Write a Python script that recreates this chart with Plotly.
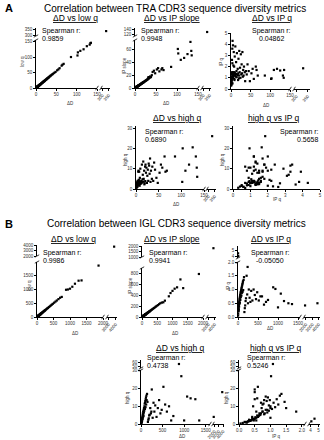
import plotly.graph_objects as go

# ---------------- data ----------------
# TRA samples
tra_dD = [0.3, 0.5, 0.8, 1.0, 1.2, 1.5, 2.0, 2.2, 2.5, 3.0, 3.3, 3.6, 4.0, 4.5, 5.0, 5.5, 6.0, 6.5, 7.0, 7.5,
          8.0, 8.5, 9.0, 9.5, 10, 11, 12, 13, 14, 15, 16, 17, 18, 19, 20, 21, 22, 23, 24, 25,
          26, 27, 28, 29, 30, 31, 32, 33, 35, 36, 38, 40, 42, 45, 48, 52, 55, 58, 63, 65,
          68, 86, 102, 103, 109, 117, 125, 132, 134, 135, 330,
          0.4, 0.7, 1.1, 1.8, 2.8, 3.8, 4.8, 6.2, 7.2, 8.8, 10.5, 12.5, 14.5, 16.5, 18.5, 20.5, 3.5, 5.2]
tra_lowq = [0.4, 0.6, 1.0, 1.2, 1.3, 1.8, 2.3, 2.5, 2.9, 3.4, 3.8, 4.0, 4.5, 5.0, 5.6, 6.2, 6.7, 7.2, 7.8, 8.3,
            8.9, 9.5, 10.0, 10.5, 11, 12, 13, 14.5, 15.5, 16.5, 17.5, 18.8, 19.8, 21, 22, 23, 24, 25.5, 26.5, 27.5,
            28.5, 30, 31, 32, 33, 34, 35.5, 36.5, 38.5, 40, 42, 44, 46, 49, 52, 57, 60, 64, 72, 75,
            78, 100, 105, 115, 120, 125, 135, 140, 145, 146, 335,
            0.5, 0.8, 1.3, 2.0, 3.1, 4.2, 5.3, 6.9, 8.0, 9.8, 11.6, 13.8, 16, 18.2, 20.4, 22.6, 3.9, 5.8]
tra_ipslope = [0.2, 0.3, 0.4, 0.5, 0.6, 0.7, 0.9, 1.0, 1.1, 1.3, 1.5, 1.6, 1.8, 2.0, 2.2, 2.4, 2.7, 2.9, 3.1, 3.3,
               3.5, 3.8, 4.0, 4.2, 4.4, 4.9, 5.3, 5.8, 6.2, 6.7, 7.1, 7.6, 8.0, 8.5, 8.9, 9.4, 9.8, 10.3, 10.8, 11.2,
               11.7, 12.1, 12.6, 13, 13.5, 15, 17, 14.8, 16, 18, 17, 20, 25, 27, 23, 29, 31, 26, 29, 31,
               28, 33, 61, 54, 44, 47, 53, 72, 58, 51, 130,
               0.2, 0.3, 0.5, 0.8, 1.2, 1.7, 2.1, 2.8, 3.2, 3.9, 4.7, 5.6, 6.5, 7.4, 8.3, 9.2, 1.6, 2.3]
tra_ipq = [0.6, 0.5, 0.7, 0.9, 1.3, 0.4, 1.1, 0.8, 2.6, 1.4, 3.6, 1.2, 4.3, 1.0, 3.9, 1.5, 2.1, 1.3, 3.3, 1.2,
           2.0, 0.9, 1.5, 2.9, 1.4, 3.8, 1.1, 2.4, 1.6, 3.2, 1.3, 1.8, 0.8, 2.7, 1.2, 3.4, 1.5, 1.9, 1.0, 3.1,
           1.3, 2.2, 1.4, 3.3, 1.1, 1.7, 1.2, 2.0, 1.5, 0.7, 1.6, 1.3, 2.2, 1.6, 0.7, 1.4, 1.8, 0.9, 2.0, 1.7,
           1.2, 1.2, 0.9, 0.95, 1.7, 1.8, 1.65, 1.2, 1.0, 1.7, 1.85,
           0.3, 1.0, 1.4, 0.6, 1.5, 0.5, 1.0, 1.3, 1.45, 0.8, 1.2, 1.35, 1.05, 1.25, 1.4, 0.95, 2.3, 1.15]
tra_highq = [1.0, 1.5, 0.5, 2.0, 2.5, 1.2, 3.0, 1.8, 1.0, 3.5, 2.2, 4.0, 3.0, 2.8, 8.5, 9.0, 4.5, 2.0, 8.5, 3.8,
             1.6, 5.5, 3.0, 10.0, 2.5, 3.5, 4.0, 12.0, 3.5, 7.0, 13.5, 5.0, 9.0, 2.8, 11.0, 12.0, 8.0, 10.5, 3.0, 6.5,
             9.5, 4.0, 12.5, 11.5, 7.5, 15.0, 3.5, 9.0, 5.0, 11.0, 4.0, 13.0, 9.5, 5.5, 3.0, 8.0, 12.0, 10.5, 16.0, 8.5,
             9.0, 16.0, 3.5, 20.0, 9.0, 12.0, 20.5, 16.0, 10.5, 6.0, 26.0,
             0.6, 1.4, 2.6, 1.1, 2.4, 1.9, 3.1, 2.2, 4.2, 2.7, 3.3, 2.9, 4.8, 3.6, 2.3, 3.9, 1.3, 3.4]

# IGL samples
igl_dD = [3, 5, 7, 9, 11, 13, 15, 18, 20, 22, 25, 27, 30, 33, 36, 40, 43, 46, 50, 54,
          58, 62, 66, 70, 75, 80, 85, 90, 95, 100, 105, 110, 115, 120, 125, 130, 140, 150, 160, 170,
          180, 190, 200, 215, 230, 250, 270, 290, 310, 330, 360, 390, 420, 450, 480, 520, 560, 600, 650, 700,
          750, 880, 935, 1000, 1070, 1150, 1260, 1350, 1865, 3800, 2, 6, 240]
igl_lowq = [3, 5, 7, 9, 11, 13, 15, 18, 20, 22, 25, 27, 30, 33, 36, 40, 43, 46, 50, 54,
            58, 62, 66, 70, 75, 80, 85, 90, 95, 100, 105, 110, 115, 120, 125, 130, 140, 150, 160, 170,
            180, 190, 200, 215, 230, 250, 270, 290, 310, 330, 360, 390, 420, 450, 480, 520, 560, 600, 650, 700,
            730, 990, 1000, 1030, 1100, 1210, 1320, 1330, 1870, 3700, 2, 6, 240]
igl_ipslope = [1, 2, 3, 4, 5, 5, 6, 8, 8, 9, 10, 11, 13, 14, 15, 17, 18, 19, 21, 23,
               24, 26, 28, 29, 31, 34, 36, 38, 40, 42, 44, 46, 48, 50, 52, 55, 59, 63, 67, 71,
               76, 80, 84, 90, 97, 105, 113, 122, 130, 139, 151, 164, 176, 189, 202, 218, 235, 252, 265, 270,
               300, 380, 440, 480, 520, 545, 690, 530, 790, 1800, 1, 2, 100]
igl_ipq = [0.05, 0.12, 0.2, 0.25, 0.3, 0.22, 0.35, 0.4, 0.28, 0.45, 0.5, 0.38, 0.55, 0.6, 0.48, 0.65, 0.7, 0.52, 0.75, 0.8,
           0.62, 0.85, 0.9, 0.72, 0.95, 1.0, 0.78, 1.05, 1.1, 0.88, 1.15, 1.2, 0.92, 1.25, 1.3, 0.98, 1.35, 1.45, 0.18, 0.32,
           0.42, 0.58, 0.68, 1.5, 0.82, 0.5, 1.0, 0.7, 0.55, 0.95, 0.6, 1.0, 0.8, 0.65, 0.9, 0.6, 0.75, 0.75, 0.45, 0.55,
           0.62, 1.08, 1.02, 0.35, 0.85, 0.58, 0.5, 0.47, 0.42, 0.5, 4.5, 4.1, 1.82]
igl_highq = [0.3, 0.6, 1.0, 0.8, 1.4, 1.1, 1.8, 2.2, 1.5, 2.6, 3.0, 2.0, 3.5, 4.2, 2.8, 5.0, 6.0, 3.8, 7.0, 5.5,
             4.5, 8.0, 6.5, 9.0, 7.5, 10.0, 11.5, 8.5, 12.0, 13.0, 9.5, 14.0, 15.0, 11.0, 16.0, 13.5, 17.0, 12.5, 1.2, 2.4,
             3.2, 4.8, 5.2, 9.0, 6.0, 19.5, 3.5, 12.0, 7.0, 10.5, 4.0, 9.0, 13.5, 6.0, 8.0, 21.0, 11.0, 7.0, 10.0, 2.0,
             4.5, 55.0, 27.0, 2.0, 15.5, 14.5, 14.0, 2.0, 4.0, 18.0, 3.0, 1.5, 7.0]

title_A = "Correlation between TRA CDR3 sequence diversity metrics"
title_B = "Correlation between IGL CDR3 sequence diversity metrics"
panel_titles = ["ΔD vs low q", "ΔD vs IP slope", "ΔD vs IP q", "ΔD vs high q", "high q vs IP q"]
x_titles = ["ΔD", "ΔD", "ΔD", "ΔD", "IP q"]
y_titles = ["low q", "IP slope", "IP q", "high q", "high q"]
spearman_A = ["0.9859", "0.9948", "0.04862", "0.6890", "0.5658"]
spearman_B = ["0.9986", "0.9941", "-0.05050", "0.4738", "0.5246"]

# ---------------- layout helpers ----------------
W, H = 324, 440
FONT = "Liberation Sans, Arial, sans-serif"


def px(x):
    return x / W


def py(y):
    return 1 - y / H


fig = go.Figure()
axes = {}
shapes = []
annotations = []
counter = {"x": 0, "y": 0}

base_axis = dict(showline=True, linecolor="black", linewidth=0.8, ticks="outside", ticklen=2,
                 tickwidth=0.8, tickcolor="black", showgrid=False, zeroline=False,
                 tickfont=dict(size=4.5, family=FONT, color="#333"), automargin=False, fixedrange=True)


def axname(kind, i):
    return f"{kind}axis" if i == 1 else f"{kind}axis{i}"


def axref(kind, i):
    return kind if i == 1 else f"{kind}{i}"


def brk(x, y, w=1.4, h=2.2):
    shapes.append(dict(type="line", xref="paper", yref="paper", x0=px(x - w), y0=py(y + h),
                       x1=px(x + w), y1=py(y - h), line=dict(color="black", width=0.8)))


def ticktexts(vals, fmt):
    return [fmt.format(v) for v in vals]


def add_panel(xs, ys, s):
    counter["x"] += 1
    xm = counter["x"]
    counter["y"] += 1
    ym = counter["y"]
    xb = yb = None
    if "xb" in s:
        counter["x"] += 1
        xb = counter["x"]
    if "yb" in s:
        counter["y"] += 1
        yb = counter["y"]
    xf = s.get("xfmt", "{:g}")
    yf = s.get("yfmt", "{:g}")
    axes[axname("x", xm)] = dict(base_axis, domain=[px(s["xm"][0]), px(s["xm"][1])], range=s["xr"],
                                 anchor=axref("y", ym), tickvals=s["xt"], ticktext=ticktexts(s["xt"], xf))
    axes[axname("y", ym)] = dict(base_axis, domain=[py(s["ym"][0]), py(s["ym"][1])], range=s["yr"],
                                 anchor=axref("x", xm), tickvals=s["yt"], ticktext=ticktexts(s["yt"], yf))
    if xb:
        axes[axname("x", xb)] = dict(base_axis, domain=[px(s["xb"][0]), px(s["xb"][1])], range=s["xbr"],
                                     anchor=axref("y", ym), tickvals=s["xbt"],
                                     ticktext=ticktexts(s["xbt"], "{:g}"), tickangle=s.get("xba", -50))
        brk(s["xm"][1], s["ym"][0])
        brk(s["xb"][0], s["ym"][0])
    if yb:
        axes[axname("y", yb)] = dict(base_axis, domain=[py(s["yb"][0]), py(s["yb"][1])], range=s["ybr"],
                                     anchor=axref("x", xm), tickvals=s["ybt"],
                                     ticktext=ticktexts(s["ybt"], "{:g}"))
        brk(s["xm"][0], s["ym"][1], 2.2, 1.2)
        brk(s["xm"][0], s["yb"][0], 2.2, 1.2)
    groups = {}
    for x, y in zip(xs, ys):
        kx = xb if (xb and x > s["xr"][1]) else xm
        ky = yb if (yb and y > s["yr"][1]) else ym
        groups.setdefault((kx, ky), ([], []))
        groups[(kx, ky)][0].append(x)
        groups[(kx, ky)][1].append(y)
    for (kx, ky), (gx, gy) in groups.items():
        fig.add_trace(go.Scatter(x=gx, y=gy, mode="markers", xaxis=axref("x", kx), yaxis=axref("y", ky),
                                 marker=dict(size=2.2, color="black", symbol="square"),
                                 cliponaxis=False, hoverinfo="skip"))


def text(x, y, t, size, anchor="center", angle=0, bold=False, color="black"):
    if bold:
        t = f"<b>{t}</b>"
    annotations.append(dict(x=px(x), y=py(y), xref="paper", yref="paper", text=t, showarrow=False,
                            xanchor=anchor, yanchor="middle", textangle=angle,
                            font=dict(size=size, family=FONT, color=color)))


# ---------------- panels: TRA ----------------
specA = [
    dict(xm=(36, 97), xr=[0, 150], xt=[0, 50, 100, 150], xb=(101, 110), xbr=[290, 360], xbt=[300, 350],
         ym=(88, 40), yr=[0, 155], yt=[0, 50, 100, 150], yb=(36, 28), ybr=[295, 360], ybt=[300, 350]),
    dict(xm=(135, 198), xr=[0, 150], xt=[0, 50, 100, 150], xb=(202, 211), xbr=[290, 360], xbt=[300, 350],
         ym=(88, 40), yr=[0, 75], yt=[0, 20, 40, 60], yb=(36, 28), ybr=[115, 145], ybt=[120, 140]),
    dict(xm=(231, 290), xr=[0, 150], xt=[0, 50, 100, 150], xb=(294, 310), xbr=[290, 360], xbt=[300, 350],
         ym=(89, 33), yr=[0, 5], yt=[0, 1, 2, 3, 4, 5]),
    dict(xm=(136, 204), xr=[0, 150], xt=[0, 50, 100, 150], xb=(207, 216), xbr=[290, 360], xbt=[300, 350],
         ym=(189, 126), yr=[0, 31], yt=[0, 10, 20, 30]),
    dict(xm=(233, 320), xr=[0, 5], xt=[0, 1, 2, 3, 4, 5],
         ym=(189, 126), yr=[0, 31], yt=[0, 10, 20, 30]),
]
tra_pairs = [(tra_dD, tra_lowq), (tra_dD, tra_ipslope), (tra_dD, tra_ipq), (tra_dD, tra_highq),
             (tra_ipq, tra_highq)]
for (xs, ys), s in zip(tra_pairs, specA):
    add_panel(xs, ys, s)

# ---------------- panels: IGL ----------------
specB = [
    dict(xm=(37, 103), xr=[0, 2000], xt=[0, 500, 1000, 1500, 2000], xb=(107, 117), xbr=[2800, 4200],
         xbt=[3000, 4000], ym=(317, 262), yr=[0, 2000], yt=[0, 500, 1000, 1500],
         yb=(256, 245), ybr=[2000, 4000], ybt=[2000, 3000, 4000]),
    dict(xm=(142, 203), xr=[0, 2000], xt=[0, 500, 1000, 1500, 2000], xb=(207, 216), xbr=[2800, 4200],
         xbt=[3000, 4000], ym=(317, 268), yr=[0, 900], yt=[0, 200, 400, 600, 800],
         yb=(257, 246), ybr=[1000, 2000], ybt=[1000, 1500, 2000]),
    dict(xm=(238, 300), xr=[0, 1550], xt=[0, 500, 1000, 1500], xb=(304, 320), xbr=[1700, 4200],
         xbt=[2000, 3000, 4000], ym=(317, 262), yr=[0, 2.0], yt=[0, 0.5, 1.0, 1.5, 2.0], yfmt="{:.1f}",
         yb=(258, 246), ybr=[3.8, 5.6], ybt=[4, 5]),
    dict(xm=(141, 210), xr=[0, 1600], xt=[0, 500, 1000, 1500], xb=(213, 224), xbr=[1700, 4200],
         xbt=[2000, 3000, 4000], ym=(424, 370), yr=[0, 30.5], yt=[0, 10, 20, 30],
         yb=(368, 360), ybr=[45, 65], ybt=[50, 60]),
    dict(xm=(239, 305), xr=[0, 2.1], xt=[0, 0.5, 1.0, 1.5, 2.0], xfmt="{:.1f}", xb=(309, 320), xbr=[3.8, 5.2],
         xbt=[4, 5], xba=0, ym=(424, 370), yr=[0, 30.5], yt=[0, 10, 20, 30],
         yb=(368, 360), ybr=[45, 65], ybt=[50, 60]),
]
igl_pairs = [(igl_dD, igl_lowq), (igl_dD, igl_ipslope), (igl_dD, igl_ipq), (igl_dD, igl_highq),
             (igl_ipq, igl_highq)]
for (xs, ys), s in zip(igl_pairs, specB):
    add_panel(xs, ys, s)

# ---------------- texts ----------------
text(3, 8, "A", 11, anchor="left", bold=True)
text(175, 8, title_A, 10)
text(3, 224, "B", 11, anchor="left", bold=True)
text(176, 224, title_B, 10)

ptA = [(75, 18), (172, 18), (272, 18), (177, 118), (274, 118)]
ptB = [(73, 239), (172, 239), (271, 239), (180, 348), (276, 348)]
for (x, y), t in zip(ptA, panel_titles):
    text(x, y, f"<u>{t}</u>", 8.5)
for (x, y), t in zip(ptB, panel_titles):
    text(x, y, f"<u>{t}</u>", 8.5)

# Spearman labels
spA = [(40, "left"), (139, "left"), (271, "center"), (143, "left"), (321, "right")]
spA_y = [31, 31, 31, 132, 132]
for (x, a), y, v in zip(spA, spA_y, spearman_A):
    text(x, y, "Spearman r:", 7, anchor=a)
    text(x, y + 8, v, 7, anchor=a)
spB = [(41, "left"), (147, "left"), (270, "center"), (145, "left"), (245, "left")]
spB_y = [253, 253, 253, 358, 358]
for (x, a), y, v in zip(spB, spB_y, spearman_B):
    text(x, y, "Spearman r:", 7, anchor=a)
    text(x, y + 7.5, v, 7, anchor=a)

# axis titles
xtA = [(70, 103), (166, 103), (266, 105), (176, 204), (277, 199)]
ytA = [(23, 62), (124, 66), (222, 62), (125, 160), (222, 160)]
xtB = [(75, 333), (175, 333), (270, 328), (182, 436), (276, 436)]
ytB = [(29, 286), (130, 286), (228, 286), (127, 398), (226, 398)]
for (x, y), t in zip(xtA, x_titles):
    text(x, y, t, 4.5, color="#333")
for (x, y), t in zip(ytA, y_titles):
    text(x, y, t, 4.5, angle=-90, color="#333")
for (x, y), t in zip(xtB, x_titles):
    text(x, y, t, 4.5, color="#333")
for (x, y), t in zip(ytB, y_titles):
    text(x, y, t, 4.5, angle=-90, color="#333")

fig.update_layout(width=W, height=H, margin=dict(l=0, r=0, t=0, b=0), template="none",
                  paper_bgcolor="white", plot_bgcolor="white", showlegend=False,
                  annotations=annotations, shapes=shapes, **axes)
fig.write_html("out.html", config={"displayModeBar": False},
               post_script="document.body.style.margin='0';")
